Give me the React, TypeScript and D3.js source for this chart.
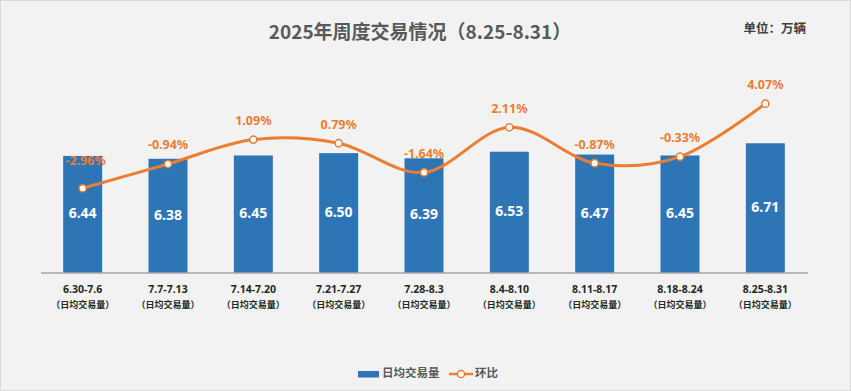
import React, { useLayoutEffect } from "react";
import * as d3 from "d3";

const categories = ["6.30-7.6", "7.7-7.13", "7.14-7.20", "7.21-7.27", "7.28-8.3", "8.4-8.10", "8.11-8.17", "8.18-8.24", "8.25-8.31"];
const dailyVolume = [6.44, 6.38, 6.45, 6.5, 6.39, 6.53, 6.47, 6.45, 6.71];
const momChange = [-2.96, -0.94, 1.09, 0.79, -1.64, 2.11, -0.87, -0.33, 4.07];
const subLabel = "（日均交易量）";
const title = "2025年周度交易情况（8.25-8.31）";
const unitLabel = "单位：万辆";
const legendBar = "日均交易量";
const legendLine = "环比";

const W = 851;
const H = 391;
const BLUE = "#2E75B6";
const ORANGE = "#ED7D31";
const FONT = "'Noto Sans', 'Noto Sans CJK SC', sans-serif";
const CJK = "'Noto Sans CJK SC', 'Noto Sans', sans-serif";

export default function App() {
  useLayoutEffect(() => {
    document.body.style.margin = "0";
  }, []);

  const axisY = 273;
  const x = d3
    .scaleBand<string>()
    .domain(categories)
    .range([40, 808])
    .paddingInner(0.543)
    .paddingOuter(0.2715);
  const yBar = d3.scaleLinear().domain([3.95, 7.79]).range([axisY, 92.5]);
  const yLine = d3.scaleLinear().domain([-10, 5]).range([axisY, 92.5]);

  const pts: [number, number][] = momChange.map((v, i) => [
    (x(categories[i]) as number) + x.bandwidth() / 2,
    yLine(v),
  ]);
  const line = d3.line().curve(d3.curveCardinal.tension(0))(pts) as string;

  return (
    <svg width={W} height={H} style={{ display: "block" }} fontFamily={FONT}>
      <rect x={0.5} y={0.5} width={W - 1} height={H - 1} fill="#F2F2F2" stroke="#D9D9D9" />
      <text x={420} y={34} textAnchor="middle" dominantBaseline="middle" fontFamily={CJK} fontWeight="bold" fontSize={19} fill="#595959">
        {title}
      </text>
      <text x={806} y={30} textAnchor="end" dominantBaseline="middle" fontFamily={CJK} fontWeight="bold" fontSize={12.5} fill="#404040">
        {unitLabel}
      </text>

      {dailyVolume.map((v, i) => {
        const bx = x(categories[i]) as number;
        const top = yBar(v);
        return (
          <g key={"b" + i}>
            <rect x={bx} y={top} width={x.bandwidth()} height={axisY - top} fill={BLUE} />
            <text
              x={bx + x.bandwidth() / 2}
              y={(top + axisY) / 2}
              textAnchor="middle"
              dominantBaseline="middle"
              fontWeight="bold"
              fontSize={14}
              fill="#FFFFFF"
            >
              {v.toFixed(2)}
            </text>
          </g>
        );
      })}

      <line x1={41} x2={808} y1={axisY} y2={axisY} stroke="#A6A6A6" strokeWidth={1.5} />

      <path d={line} fill="none" stroke={ORANGE} strokeWidth={3} strokeLinecap="round" />
      {pts.map(([px, py], i) => (
        <circle key={"c" + i} cx={px} cy={py} r={3.6} fill="#FFFFFF" stroke={ORANGE} strokeWidth={1.5} />
      ))}
      {momChange.map((v, i) => {
        const [px, py] = pts[i];
        const dx = i === 0 ? 3 : 0;
        const dy = i === 0 ? 27 : 18;
        return (
          <text
            key={"l" + i}
            x={px + dx}
            y={py - dy}
            textAnchor="middle"
            dominantBaseline="middle"
            fontWeight="bold"
            fontSize={12.5}
            fill={ORANGE}
          >
            {v.toFixed(2) + "%"}
          </text>
        );
      })}

      {categories.map((c, i) => {
        const cx = (x(c) as number) + x.bandwidth() / 2;
        return (
          <g key={"x" + i} fill="#262626" fontWeight="bold">
            <text x={cx} y={290} textAnchor="middle" dominantBaseline="middle" fontSize={10.5}>
              {c}
            </text>
            <text x={cx} y={306} textAnchor="middle" dominantBaseline="middle" fontFamily={CJK} fontSize={9}>
              {subLabel}
            </text>
          </g>
        );
      })}

      <rect x={358} y={371} width={21} height={6.5} fill={BLUE} />
      <text x={382} y={374} dominantBaseline="middle" fontFamily={CJK} fontWeight="bold" fontSize={11.5} fill="#595959">
        {legendBar}
      </text>
      <line x1={449} x2={473} y1={374} y2={374} stroke={ORANGE} strokeWidth={2.5} />
      <circle cx={461} cy={374} r={3.6} fill="#FFFFFF" stroke={ORANGE} strokeWidth={1.5} />
      <text x={475} y={374} dominantBaseline="middle" fontFamily={CJK} fontWeight="bold" fontSize={11.5} fill="#595959">
        {legendLine}
      </text>
    </svg>
  );
}
